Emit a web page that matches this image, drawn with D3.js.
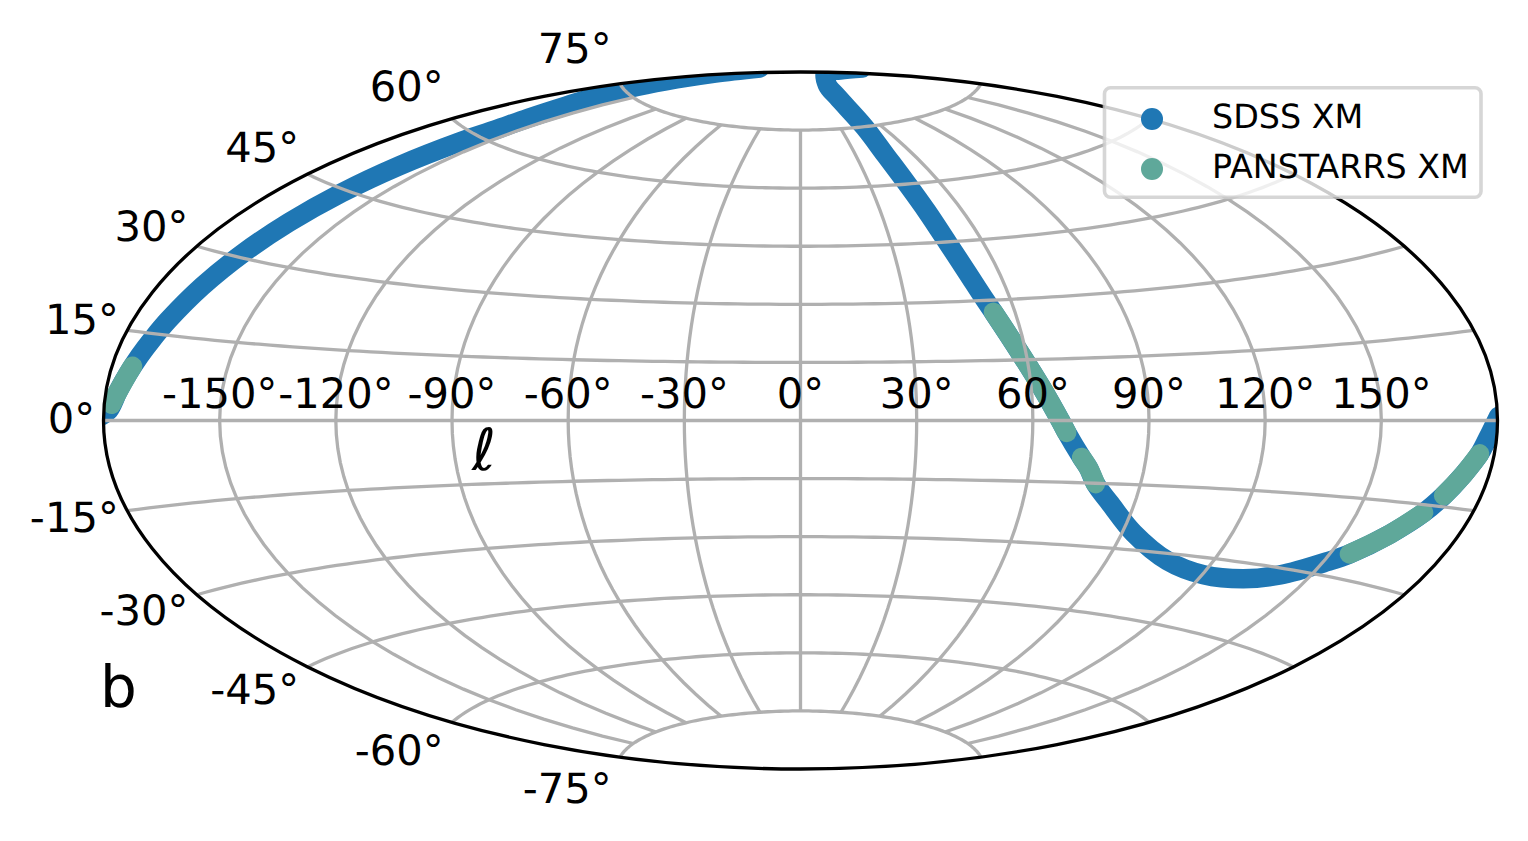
<!DOCTYPE html>
<html>
<head>
<meta charset="utf-8">
<script src="https://cdn.jsdelivr.net/npm/d3@7"></script>
<style>
  body { margin: 0; background: #fff; }
  svg { display: block; }
  text { font-family: "DejaVu Sans", sans-serif; fill: #000; text-rendering: geometricPrecision; }
  .grid { fill: none; stroke: #b0b0b0; stroke-width: 3.3px; }
  .band { fill: none; stroke-width: 19.5px; stroke-linecap: round; stroke-linejoin: round; }
  .tick { font-size: 41.67px; }
</style>
</head>
<body>
<div id="chart"></div>
<script>
// galactic coordinates, in degrees
var sdssWestL = [-180.5, -178.7, -176.9, -175.3, -173.8, -172.3, -170.9, -168.3, -165.9, -163.7, -161.7, -159.9, -158.4, -157.7, -158.9, -161.2, -165.2, -169.7, -175.9, -186.7, -220.0];
var sdssWestB = [0.8, 1.7, 4.8, 7.9, 11.0, 14.2, 17.5, 24.1, 30.8, 37.5, 44.4, 51.3, 58.3, 61.8, 65.4, 69.3, 72.8, 76.2, 79.7, 83.0, 86.5];

var sdssEastL = [210.9, 203.0, 183.4, 69.9, 54.5, 47.7, 45.7, 46.0, 47.1, 48.5, 50.4, 52.8, 54.0, 58.5, 62.7, 67.1, 68.8, 73.2, 75.5, 78.1, 83.6, 93.1, 107.2, 120.4, 132.5, 141.6, 151.1, 155.2, 162.0, 167.3, 170.3, 173.4, 176.2, 177.7, 180.3];
var sdssEastB = [84.8, 86.7, 87.9, 86.0, 82.9, 74.9, 67.6, 60.2, 52.7, 44.9, 37.5, 30.0, 27.0, 16.6, 8.1, 0.0, -2.9, -8.9, -11.5, -15.1, -19.7, -26.1, -31.6, -33.6, -33.2, -31.3, -27.4, -25.4, -20.8, -16.4, -13.1, -9.2, -5.6, -3.0, 0.7];

var panWestL = [-178.1, -176.9, -175.3, -174.7];
var panWestB = [2.7, 4.8, 7.9, 9.2];
var panNorthL = [54.0, 58.5, 62.7, 67.1, 68.8];
var panNorthB = [27.0, 16.6, 8.1, 0.0, -2.9];
var panMidL = [73.2, 75.5, 78.1];
var panMidB = [-8.9, -11.5, -15.1];
var panSouthL = [155.2, 162.0, 167.3];
var panSouthB = [-25.4, -20.8, -16.4];
var panEastL = [170.3, 173.4, 176.2];
var panEastB = [-13.1, -9.2, -5.6];

var lonTicks = [-150, -120, -90, -60, -30, 0, 30, 60, 90, 120, 150];
var latTicks = [-75, -60, -45, -30, -15, 0, 15, 30, 45, 60, 75];
var legendNames = ["SDSS XM", "PANSTARRS XM"];
var legendColors = ["#1f77b4", "#5fa89a"];

var width = 1528;
var height = 841;

var x = d3.scaleLinear().domain([-Math.PI, Math.PI]).range([103.5, 1497.5]);
var y = d3.scaleLinear().domain([-Math.PI / 2, Math.PI / 2]).range([769, 72]);

// same aitoff as matplotlib
function aitoff(l, b) {
  var lam = l * Math.PI / 180;
  var phi = b * Math.PI / 180;
  var alpha = Math.acos(Math.cos(phi) * Math.cos(lam / 2));
  var sinc = alpha < 1e-9 ? 1 : Math.sin(alpha) / alpha;
  return [
    x(2 * Math.cos(phi) * Math.sin(lam / 2) / sinc),
    y(Math.sin(phi) / sinc)
  ];
}

function zipped(ls, bs) {
  return ls.map(function(l, i) { return aitoff(l, bs[i]); });
}

var smooth = d3.line().curve(d3.curveCatmullRom.alpha(0.5));
var plain = d3.line();

var svg = d3.select("#chart").append("svg")
  .attr("width", width)
  .attr("height", height);

svg.append("clipPath")
  .attr("id", "sky")
  .append("ellipse")
    .attr("cx", x(0))
    .attr("cy", y(0))
    .attr("rx", x(Math.PI) - x(0))
    .attr("ry", y(0) - y(Math.PI / 2));

var bands = svg.append("g").attr("clip-path", "url(#sky)");

bands.selectAll(".sdss")
  .data([[sdssWestL, sdssWestB], [sdssEastL, sdssEastB]])
  .enter().append("path")
    .attr("class", "band sdss")
    .attr("stroke", legendColors[0])
    .attr("d", function(d) { return smooth(zipped(d[0], d[1])); });

bands.selectAll(".pan")
  .data([[panWestL, panWestB], [panNorthL, panNorthB], [panMidL, panMidB], [panSouthL, panSouthB], [panEastL, panEastB]])
  .enter().append("path")
    .attr("class", "band pan")
    .attr("stroke", legendColors[1])
    .attr("d", function(d) { return smooth(zipped(d[0], d[1])); });

// graticule sits on top of the points
var grid = svg.append("g");

grid.selectAll(".lat")
  .data(latTicks)
  .enter().append("path")
    .attr("class", "grid lat")
    .attr("d", function(b) {
      return plain(d3.range(-180, 181, 3).map(function(l) { return aitoff(l, b); }));
    });

grid.selectAll(".lon")
  .data(lonTicks)
  .enter().append("path")
    .attr("class", "grid lon")
    .attr("d", function(l) {
      return plain(d3.range(-75, 76, 3).map(function(b) { return aitoff(l, b); }));
    });

svg.append("ellipse")
  .attr("cx", x(0))
  .attr("cy", y(0))
  .attr("rx", x(Math.PI) - x(0))
  .attr("ry", y(0) - y(Math.PI / 2))
  .attr("fill", "none")
  .attr("stroke", "#000")
  .attr("stroke-width", 3.3);

svg.selectAll(".lonlabel")
  .data(lonTicks)
  .enter().append("text")
    .attr("class", "tick lonlabel")
    .attr("text-anchor", "middle")
    .attr("x", function(l) { return aitoff(l, 0)[0]; })
    .attr("y", 408)
    .text(function(l) { return l + "°"; });

svg.selectAll(".latlabel")
  .data(latTicks)
  .enter().append("text")
    .attr("class", "tick latlabel")
    .attr("text-anchor", "end")
    .attr("x", function(b) { return aitoff(-180, b)[0] - 8.5; })
    .attr("y", function(b) { return 433 + 1.1 * (aitoff(-180, b)[1] - 420.5); })
    .text(function(b) { return b + "°"; });

svg.append("text")
  .attr("x", 100)
  .attr("y", 707)
  .attr("font-size", 58)
  .text("b");

svg.append("text")
  .attr("x", 484)
  .attr("y", 470)
  .attr("text-anchor", "middle")
  .attr("font-size", 58)
  .attr("font-style", "italic")
  .text("ℓ");

var legend = svg.append("g");

legend.append("rect")
  .attr("x", 1104.5)
  .attr("y", 87.8)
  .attr("width", 376.5)
  .attr("height", 109.5)
  .attr("rx", 6)
  .attr("fill", "#fff")
  .attr("fill-opacity", 0.8)
  .attr("stroke", "#ccc")
  .attr("stroke-opacity", 0.8)
  .attr("stroke-width", 3.6);

var rows = legend.selectAll(".row")
  .data(legendNames)
  .enter().append("g")
    .attr("class", "row")
    .attr("transform", function(d, i) { return "translate(0," + (119 + i * 50) + ")"; });

rows.append("circle")
  .attr("cx", 1152)
  .attr("r", 11)
  .attr("fill", function(d, i) { return legendColors[i]; });

rows.append("text")
  .attr("x", 1212)
  .attr("y", 9)
  .attr("font-size", 33.3)
  .text(function(d) { return d; });
</script>
</body>
</html>
